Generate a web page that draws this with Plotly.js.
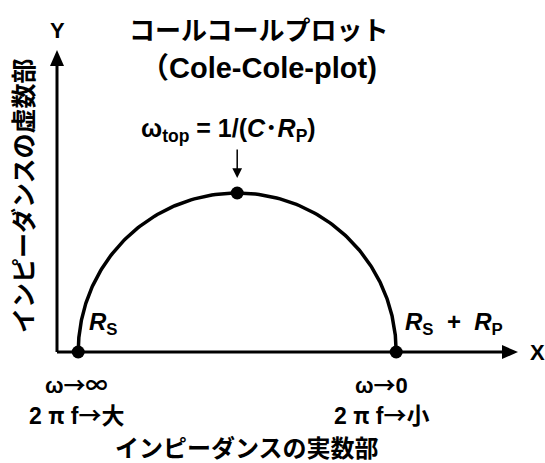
<!DOCTYPE html>
<html><head><meta charset="utf-8">
<script src="https://cdn.plot.ly/plotly-3.0.1.min.js"></script>
<style>html,body{margin:0;padding:0;background:#fff;}#chart{width:545px;height:463px;}</style>
</head><body><div id="chart"></div>
<script>
// ---- data (schematic values) ----
const Rs = 1;            // series resistance
const Rp = 15;           // parallel resistance
const C = 1;             // capacitance (arbitrary)
const limitOmega = ['∞', '0'];
const limitSize = ['大', '小'];
const titleJa = 'コールコールプロット';
const titleEn = '（Cole-Cole-plot)';
const xTitle = 'インピーダンスの実数部';
const yTitle = 'インピーダンスの虚数部';

// ---- layout helpers ----
const W = 545, H = 463;
const S = 21.2;           // px per unit (equal aspect)
const X0 = 57, Y0 = 352;  // pixel of origin
const xr = [-X0 / S, (W - X0) / S];
const yr = [-(H - Y0) / S, Y0 / S];
const px = p => p / W;          // paper x from pixel
const py = p => 1 - p / H;      // paper y from pixel

// semicircle from the impedance model Z = Rs + Rp/(1 + jωCRp)
const tau = C * Rp;
const wt = [];
for (let k = -300; k <= 300; k++) wt.push(Math.pow(10, k / 100));
const zr = [Rs + Rp], zi = [0];
wt.forEach(v => { zr.push(Rs + Rp / (1 + v * v)); zi.push(Rp * v / (1 + v * v)); });
zr.push(Rs); zi.push(0);

const ptsX = [Rs, Rs + Rp, Rs + Rp / 2];
const ptsY = [0, 0, Rp / 2];

const FONT = '"Liberation Sans", Arial, "Noto Sans CJK JP", sans-serif';
const FJ = '"Noto Sans CJK JP", "Liberation Sans", sans-serif';
const jp = t => "<span style=\"font-family:'Noto Sans CJK JP'\">" + t + '</span>';

const xEnd = (518 - X0) / S, yEnd = (Y0 - 50) / S;
const aL = 16 / S, aH = 7 / S;

const traces = [
  {x: zr, y: zi, mode: 'lines', line: {color: '#000', width: 3.5}, hoverinfo: 'skip'},
  {x: ptsX, y: ptsY, mode: 'markers', marker: {color: '#000', size: 13}, hoverinfo: 'skip'}
];

const ann = (x, y, text, size, extra) => Object.assign({
  xref: 'paper', yref: 'paper', x: px(x), y: py(y), text: text, showarrow: false,
  font: {family: FONT, size: size, color: '#000'}, xanchor: 'center', yanchor: 'middle'
}, extra || {});

const annotations = [
  ann(258, 28, '<b>' + titleJa + '</b>', 26, {font: {family: FJ, size: 26, color: '#000'}}),
  ann(258, 68, '<b>' + titleEn + '</b>', 29),
  ann(228, 130, '<b>ω<sub>top</sub> = 1/(<i>C</i>･<i>R</i><sub>P</sub>)</b>', 25),
  ann(57, 30, '<b>Y</b>', 22),
  ann(537, 352, '<b>X</b>', 22),
  ann(22, 196, '<b>' + yTitle + '</b>', 25, {textangle: -90, font: {family: FJ, size: 25, color: '#000'}}),
  ann(247, 446, '<b>' + xTitle + '</b>', 24, {font: {family: FJ, size: 24, color: '#000'}}),
  ann(87, 323, '<b><i>R</i><sub>S</sub></b>', 24, {xanchor: 'left'}),
  ann(403, 323, '<b><i>R</i><sub>S</sub>&nbsp;&nbsp;+&nbsp;&nbsp;<i>R</i><sub>P</sub></b>', 24, {xanchor: 'left'}),
  ann(76, 383, '<b>ω' + jp('→' + limitOmega[0]) + '</b>', 22),
  ann(76, 414, '<b>2&nbsp;' + jp('π') + '&nbsp;f' + jp('→' + limitSize[0]) + '</b>', 23),
  ann(381, 383, '<b>ω' + jp('→') + limitOmega[1] + '</b>', 22),
  ann(381, 414, '<b>2&nbsp;' + jp('π') + '&nbsp;f' + jp('→' + limitSize[1]) + '</b>', 23),
  {xref: 'x', yref: 'y', x: Rs + Rp / 2, y: Rp / 2, text: '', showarrow: true,
   ax: 0, ay: -45, arrowhead: 2, arrowsize: 1.3, arrowwidth: 1.5, arrowcolor: '#000', standoff: 15}
];

const shapes = [
  {type: 'line', xref: 'x', yref: 'y', x0: 0, y0: 0, x1: xEnd - aL, y1: 0, line: {color: '#000', width: 3}, layer: 'below'},
  {type: 'line', xref: 'x', yref: 'y', x0: 0, y0: 0, x1: 0, y1: yEnd - aL, line: {color: '#000', width: 3}, layer: 'below'},
  {type: 'path', xref: 'x', yref: 'y', layer: 'below',
   path: `M${xEnd},0 L${xEnd - aL},${aH} L${xEnd - aL},${-aH} Z`, fillcolor: '#000', line: {color: '#000', width: 0}},
  {type: 'path', xref: 'x', yref: 'y', layer: 'below',
   path: `M0,${yEnd} L${aH},${yEnd - aL} L${-aH},${yEnd - aL} Z`, fillcolor: '#000', line: {color: '#000', width: 0}}
];

const layout = {
  width: W, height: H, margin: {l: 0, r: 0, t: 0, b: 0},
  paper_bgcolor: '#fff', plot_bgcolor: '#fff', showlegend: false,
  xaxis: {range: xr, visible: false, fixedrange: true},
  yaxis: {range: yr, visible: false, fixedrange: true},
  annotations: annotations, shapes: shapes
};
Plotly.newPlot('chart', traces, layout, {displayModeBar: false, staticPlot: true});
</script></body></html>
